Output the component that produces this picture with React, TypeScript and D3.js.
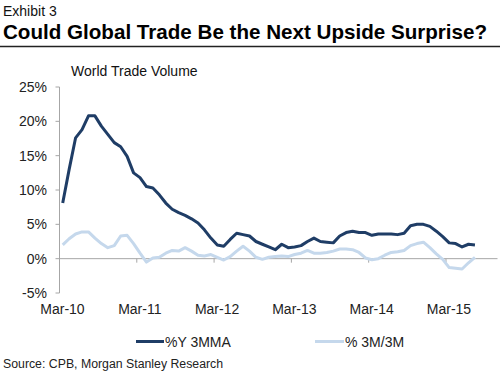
import * as d3 from "d3";

const tickLabels = ["Mar-10", "Mar-11", "Mar-12", "Mar-13", "Mar-14", "Mar-15"];
const yTicks = [-5, 0, 5, 10, 15, 20, 25];

// monthly values, Mar-10 .. Jul-15
const yoy3mma = [
  8.1, 13.0, 17.6, 18.8, 20.8, 20.8, 19.3, 18.1, 16.9, 16.3,
  14.9, 12.5, 11.8, 10.5, 10.3, 9.3, 8.1, 7.2, 6.7, 6.3,
  5.8, 5.2, 4.2, 3.0, 2.0, 1.8, 2.8, 3.7, 3.5, 3.3,
  2.5, 2.1, 1.7, 1.3, 2.1, 1.6, 1.7, 1.9, 2.5, 3.0,
  2.5, 2.4, 2.3, 3.3, 3.8, 4.0, 3.8, 3.8, 3.4, 3.6,
  3.6, 3.6, 3.5, 3.7, 4.8, 5.0, 5.0, 4.7, 4.0, 3.2,
  2.3, 2.2, 1.7, 2.1, 2.0,
];
const m3m3 = [
  2.0, 2.9, 3.6, 3.9, 3.9, 3.0, 2.2, 1.6, 1.9, 3.3,
  3.4, 2.2, 0.8, -0.5, 0.1, 0.2, 0.8, 1.2, 1.1, 1.6,
  1.1, 0.5, 0.4, 0.6, 0.2, -0.2, 0.3, 1.1, 1.8, 1.1,
  0.2, -0.1, 0.2, 0.3, 0.4, 0.3, 0.6, 0.8, 1.2, 0.8,
  0.8, 0.9, 1.1, 1.4, 1.4, 1.3, 0.9, 0.1, -0.15, 0.0,
  0.5, 0.9, 1.0, 1.2, 1.9, 2.2, 2.4, 1.6, 0.7, -0.1,
  -1.3, -1.4, -1.5, -0.6, 0.2,
];

const FONT = "Arial, 'Liberation Sans', sans-serif";
const DARK = "#1f3d66";
const LIGHT = "#c5d8ec";
const AXIS = "#a6a6a6";

export default function App() {
  const width = 500;
  const height = 374;
  const x = d3.scaleLinear().domain([0, 68]).range([59.5, 497.5]);
  const y = d3.scaleLinear().domain([-5, 25]).range([293, 87]);

  const line = d3
    .line<number>()
    .x((_, i) => x(i + 0.5))
    .y((d) => y(d));

  return (
    <svg
      width={width}
      height={height}
      style={{ position: "absolute", left: 0, top: 0, background: "#fff" }}
      fontFamily={FONT}
    >
      <text x={3} y={16} fontSize={14} fill="#111">Exhibit 3</text>
      <text x={3} y={38.5} fontSize={20.6} fontWeight="bold" fill="#000">
        Could Global Trade Be the Next Upside Surprise?
      </text>
      <line x1={0} x2={500} y1={46.5} y2={46.5} stroke="#222" strokeWidth={1.6} />

      <text x={71} y={76} fontSize={14} fill="#111">World Trade Volume</text>

      {/* y axis */}
      <line x1={x(0)} x2={x(0)} y1={y(25)} y2={y(-5)} stroke={AXIS} strokeWidth={1} />
      {yTicks.map((t) => (
        <g key={t}>
          <line x1={x(0) - 4} x2={x(0)} y1={y(t)} y2={y(t)} stroke={AXIS} />
          <text x={47} y={y(t) + 5} fontSize={14} textAnchor="end" fill="#222">
            {t}%
          </text>
        </g>
      ))}

      {/* x axis on zero line, labels low */}
      <line x1={x(0)} x2={x(68)} y1={y(0)} y2={y(0)} stroke={AXIS} strokeWidth={1} />
      {tickLabels.map((lab, i) => (
        <g key={lab}>
          <line x1={x(i * 12)} x2={x(i * 12)} y1={y(0)} y2={y(0) + 4} stroke={AXIS} />
          <text x={x(i * 12) + 3} y={314} fontSize={14} textAnchor="middle" fill="#222">
            {lab}
          </text>
        </g>
      ))}

      <path d={line(m3m3) ?? ""} fill="none" stroke={LIGHT} strokeWidth={3} strokeLinejoin="round" />
      <path d={line(yoy3mma) ?? ""} fill="none" stroke={DARK} strokeWidth={3} strokeLinejoin="round" />

      {/* legend */}
      <line x1={136} x2={164} y1={341.5} y2={341.5} stroke={DARK} strokeWidth={3} />
      <text x={165} y={346.5} fontSize={14} fill="#222">%Y 3MMA</text>
      <line x1={315} x2={344} y1={341.5} y2={341.5} stroke={LIGHT} strokeWidth={3} />
      <text x={345} y={346.5} fontSize={14} fill="#222">% 3M/3M</text>

      <text x={3} y={368} fontSize={12.3} fill="#222">Source: CPB, Morgan Stanley Research</text>
    </svg>
  );
}
